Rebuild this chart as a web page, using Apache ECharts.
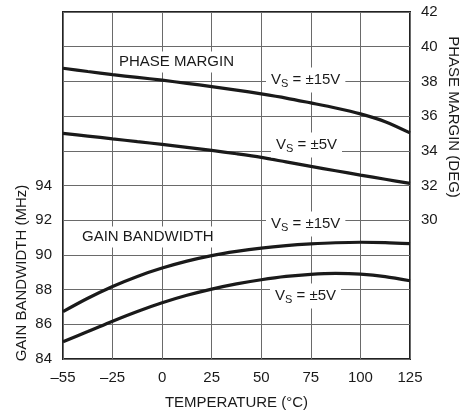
<!DOCTYPE html>
<html>
<head>
<meta charset="utf-8">
<script src="https://cdn.jsdelivr.net/npm/echarts@6/dist/echarts.min.js"></script>
<style>
  html, body { margin: 0; padding: 0; background: #fff; }
  #chart { width: 463px; height: 417px; }
</style>
</head>
<body>
<div id="chart"></div>
<script>
// Temperature steps (°C) along the x axis; every other one is labelled and gridded
const temperatures = ['–55', '–40', '–25', '–12.5', '0', '12.5', '25', '37.5',
                      '50', '62.5', '75', '87.5', '100', '112.5', '125'];

// Phase margin (deg), right axis
const phaseMarginVs15 = [38.76, 38.57, 38.39, 38.23, 38.07, 37.89, 37.70, 37.50,
                         37.28, 37.04, 36.76, 36.47, 36.13, 35.68, 35.03];
const phaseMarginVs5  = [35.00, 34.85, 34.69, 34.53, 34.37, 34.20, 34.02, 33.83,
                         33.62, 33.36, 33.10, 32.85, 32.60, 32.36, 32.12];

// Gain bandwidth (MHz), left axis
const gainBwVs15 = [86.73, 87.50, 88.18, 88.76, 89.24, 89.64, 89.96, 90.20,
                    90.39, 90.53, 90.63, 90.70, 90.73, 90.71, 90.65];
const gainBwVs5  = [85.00, 85.58, 86.18, 86.74, 87.24, 87.67, 88.03, 88.33,
                    88.57, 88.76, 88.88, 88.93, 88.89, 88.75, 88.51];

// Tick labels that are printed on each value axis
const gbwTicks = [84, 86, 88, 90, 92, 94];
const pmTicks = [30, 32, 34, 36, 38, 40, 42];

const FONT = "'Liberation Sans', Arial, sans-serif";
const FS = 15;
const INK = '#1a1a1a';
const GRID_LINE = '#6a6a6a';

const chart = echarts.init(document.getElementById('chart'), null, { renderer: 'canvas' });

const curve = (name, data, yAxisIndex) => ({
  name, type: 'line', data, yAxisIndex,
  smooth: 0.3, symbol: 'none', z: 3,
  lineStyle: { color: INK, width: 3.2 }
});

const vsLabel = (x, y, volts) => ({
  type: 'text', x, y, z: 10,
  style: {
    text: '{v|V}{s|S}{v| = ±' + volts + 'V}',
    textVerticalAlign: 'middle',
    backgroundColor: '#fff',
    padding: [3, 5, 3, 5],
    rich: {
      v: { fontFamily: FONT, fontSize: FS, fill: INK },
      s: { fontFamily: FONT, fontSize: 11, fill: INK, padding: [8, 0, 0, 0] }
    }
  }
});

const plainLabel = (x, y, text) => ({
  type: 'text', x, y, z: 10,
  style: {
    text, fontFamily: FONT, fontSize: FS, fill: INK,
    textVerticalAlign: 'middle',
    backgroundColor: '#fff',
    padding: [3, 4, 3, 4]
  }
});

chart.setOption({
  animation: false,
  backgroundColor: '#fff',
  grid: {
    left: 63, top: 12, width: 347, height: 347,
    show: true, borderColor: '#222', borderWidth: 2, backgroundColor: 'transparent'
  },
  xAxis: {
    type: 'category', data: temperatures, boundaryGap: false,
    axisLine: { show: false }, axisTick: { show: false },
    axisLabel: { color: INK, fontFamily: FONT, fontSize: FS, margin: 11, interval: 1 },
    splitLine: { show: true, interval: 1, lineStyle: { color: GRID_LINE, width: 1 } },
    name: 'TEMPERATURE (°C)', nameLocation: 'middle', nameGap: 36,
    nameTextStyle: { color: INK, fontFamily: FONT, fontSize: FS }
  },
  yAxis: [
    {
      type: 'value', min: 84, max: 104, interval: 2, position: 'left',
      axisLine: { show: false }, axisTick: { show: false },
      axisLabel: {
        color: INK, fontFamily: FONT, fontSize: FS, margin: 11,
        formatter: v => gbwTicks.includes(v) ? String(v) : ''
      },
      splitLine: { show: true, lineStyle: { color: GRID_LINE, width: 1 } }
    },
    {
      type: 'value', min: 22, max: 42, interval: 2, position: 'right',
      axisLine: { show: false }, axisTick: { show: false },
      axisLabel: {
        color: INK, fontFamily: FONT, fontSize: FS, margin: 11,
        formatter: v => pmTicks.includes(v) ? String(v) : ''
      },
      splitLine: { show: false }
    }
  ],
  series: [
    curve('Phase margin ±15V', phaseMarginVs15, 1),
    curve('Phase margin ±5V', phaseMarginVs5, 1),
    curve('Gain bandwidth ±15V', gainBwVs15, 0),
    curve('Gain bandwidth ±5V', gainBwVs5, 0)
  ],
  graphic: [
    plainLabel(115, 62, 'PHASE MARGIN'),
    vsLabel(266, 80, 15),
    vsLabel(271, 145, 5),
    plainLabel(78, 237, 'GAIN BANDWIDTH'),
    vsLabel(266, 224, 15),
    vsLabel(270, 296, 5),
    {
      type: 'text', x: 22, y: 273, rotation: Math.PI / 2,
      style: {
        text: 'GAIN BANDWIDTH (MHz)', fontFamily: FONT, fontSize: FS, fill: INK,
        textAlign: 'center', textVerticalAlign: 'middle'
      }
    },
    {
      type: 'text', x: 453, y: 117, rotation: -Math.PI / 2,
      style: {
        text: 'PHASE MARGIN (DEG)', fontFamily: FONT, fontSize: FS, fill: INK,
        textAlign: 'center', textVerticalAlign: 'middle'
      }
    }
  ]
});
</script>
</body>
</html>
